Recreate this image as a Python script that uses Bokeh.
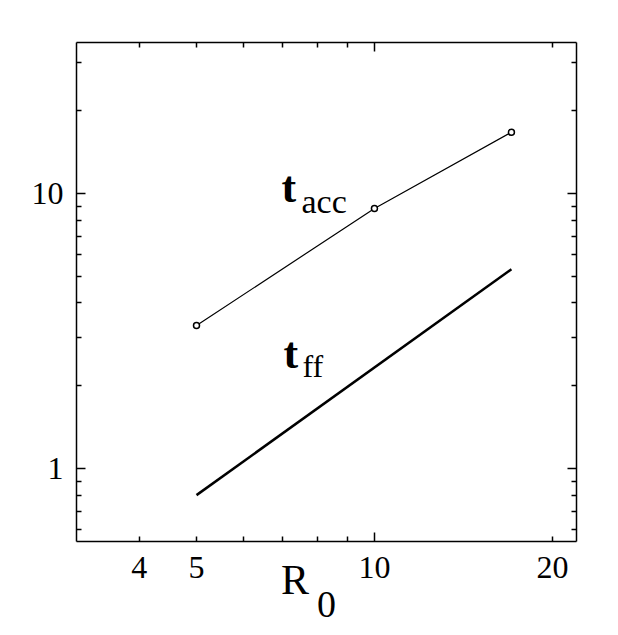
from bokeh.plotting import figure
from bokeh.models import Range1d, LogAxis, FixedTicker, Label, Title
from bokeh.embed import file_html
from bokeh.resources import INLINE

# ---- data ----
R_acc = [5.0, 10.0, 17.05]
t_acc = [3.31, 8.82, 16.7]
R_ff = [5.0, 17.05]
t_ff = [0.80, 5.3]

# ---- ticks ----
x_major = [10]
x_minor = [4, 5, 6, 7, 8, 9, 20]
x_tick_values = [4, 5, 10, 20]
x_tick_labels = {4: "4", 5: "5", 10: "10", 20: "20"}
y_major = [1, 10]
y_minor = [0.6, 0.7, 0.8, 0.9, 2, 3, 4, 5, 6, 7, 8, 9, 20, 30]
y_tick_labels = {1: "1", 10: "10"}

FONT = "Liberation Serif"
NBSP = "\u00a0"
W, H = 610, 627

p = figure(width=W, height=H, x_axis_type="log", y_axis_type="log",
           x_range=Range1d(3.133, 21.97), y_range=Range1d(0.5425, 35.4),
           output_backend="svg", toolbar_location=None,
           min_border_left=76, min_border_right=W - 576,
           min_border_top=42, min_border_bottom=H - 541)
p.xgrid.visible = False
p.ygrid.visible = False
p.outline_line_color = None
p.background_fill_color = "white"
p.border_fill_color = "white"


def style(ax, major, minor, labels):
    ax.ticker = FixedTicker(ticks=major, minor_ticks=minor)
    ax.axis_line_color = "black"
    ax.axis_line_width = 1.5
    ax.major_tick_in = 9
    ax.major_tick_out = 0
    ax.minor_tick_in = 5
    ax.minor_tick_out = 0
    ax.major_tick_line_color = "black"
    ax.minor_tick_line_color = "black"
    ax.major_tick_line_width = 1.5
    ax.minor_tick_line_width = 1.5
    if labels is None:
        ax.major_label_text_color = None
        ax.major_label_text_font_size = "1px"
        ax.major_label_standoff = 0
    else:
        ax.major_label_overrides = labels
        ax.major_label_text_font = FONT
        ax.major_label_text_font_size = "32px"
        ax.major_label_text_color = "black"
        ax.major_label_standoff = 13


style(p.xaxis[0], x_major, x_minor, None)
style(p.yaxis[0], y_major, y_minor, y_tick_labels)
top = LogAxis()
style(top, x_major, x_minor, None)
p.add_layout(top, "above")
right = LogAxis()
style(right, y_major, y_minor, None)
p.add_layout(right, "right")

# second bottom axis: only the x tick labels and the axis title "R"
xlab = LogAxis(ticker=FixedTicker(ticks=x_tick_values, minor_ticks=[]),
               major_label_overrides=x_tick_labels)
xlab.axis_line_color = None
xlab.major_tick_line_color = None
xlab.minor_tick_line_color = None
xlab.major_tick_in = 0
xlab.major_tick_out = 0
xlab.minor_tick_in = 0
xlab.minor_tick_out = 0
xlab.major_label_text_font = FONT
xlab.major_label_text_font_size = "32px"
xlab.major_label_text_color = "black"
xlab.major_label_standoff = 15
xlab.axis_label = "R" + NBSP * 6
xlab.axis_label_text_font = FONT
xlab.axis_label_text_font_size = "42px"
xlab.axis_label_text_font_style = "normal"
xlab.axis_label_text_color = "black"
xlab.axis_label_standoff = -24
p.add_layout(xlab, "below")

# small spacer, then the subscript "0" of R
p.add_layout(Title(text=NBSP, text_font=FONT, text_font_size="12px",
                   standoff=0, text_color=None), "below")
p.add_layout(Title(text="0", align="center", vertical_align="top",
                   text_font=FONT, text_font_size="38px",
                   text_font_style="normal", text_color="black",
                   standoff=-28), "below")

# ---- data marks ----
p.line(R_acc, t_acc, line_color="black", line_width=1.2)
p.scatter(R_acc, t_acc, marker="circle", size=6, fill_color="white",
          line_color="black", line_width=1.5)
p.line(R_ff, t_ff, line_color="black", line_width=2.5)


def lab(x, y, text, size, bold=False):
    p.add_layout(Label(x=x, y=y, x_units="screen", y_units="screen",
                       text=text, text_font=FONT, text_font_size=size,
                       text_font_style="bold" if bold else "normal",
                       text_align="left", text_baseline="alphabetic",
                       text_color="black"))


lab(205, 354, "t", "44px", bold=True)
lab(225, 340, "acc", "34px")
lab(207, 188, "t", "44px", bold=True)
lab(226, 175.5, "ff", "32px")

open("out.html", "w").write(file_html(p, INLINE))
